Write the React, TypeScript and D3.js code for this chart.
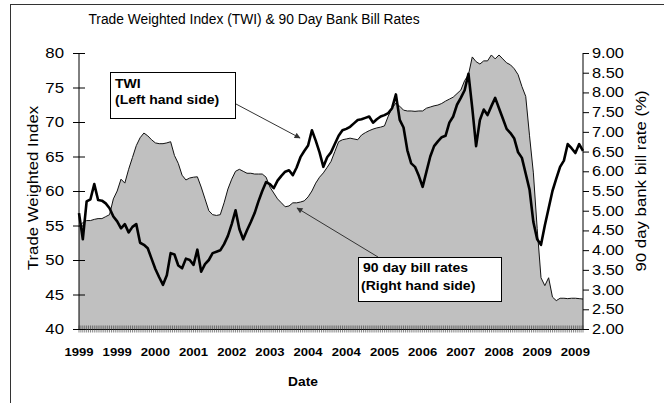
import React from "react";
import * as d3 from "d3";

// Trade Weighted Index (left axis) – sampled at even steps through the period
const twi: number[] = [
  56.8, 53.0, 58.5, 58.8, 61.0, 58.7, 58.6, 58.2, 57.5, 56.3,
  55.6, 54.6, 55.2, 54.0, 54.8, 55.2, 52.5, 52.2, 51.7, 50.2,
  48.7, 47.5, 46.4, 47.8, 51.0, 50.8, 49.2, 48.8, 50.2, 50.0,
  49.3, 51.5, 48.3, 49.4, 50.0, 51.0, 51.2, 51.4, 52.3, 53.5,
  55.2, 57.2, 54.5, 53.0, 54.3, 55.5, 56.8, 58.5, 60.0, 61.3,
  61.0, 60.4, 61.5, 62.2, 62.8, 63.0, 62.3, 63.4, 64.9, 65.8,
  66.6, 68.8, 67.3, 65.6, 63.5, 64.9, 65.6, 66.8, 68.0, 68.8,
  69.0, 69.3, 69.8, 70.3, 70.4, 70.6, 70.8, 69.9, 70.4, 70.8,
  71.0, 71.3, 72.0, 74.0, 70.3, 69.2, 65.9, 64.0, 63.5, 62.2,
  60.6, 62.8, 65.0, 66.5, 67.2, 67.8, 68.0, 69.9, 70.8, 72.5,
  73.5, 74.6, 77.0, 72.0, 66.5, 70.3, 71.8, 71.0, 72.3, 73.5,
  72.0, 70.5, 69.0, 68.4, 67.6, 65.6, 64.8, 62.5, 60.2, 55.5,
  53.0, 52.2, 55.0, 57.5, 60.0, 61.8, 63.5, 64.4, 66.8, 66.2,
  65.5, 66.8, 65.8,
];

// 90 day bank bill rate, % (right axis) – same sampling as the TWI
const billRate: number[] = [
  4.6, 4.7, 4.75, 4.75, 4.78, 4.8, 4.8, 4.85, 4.9, 5.3,
  5.5, 5.8, 5.7, 6.05, 6.35, 6.65, 6.85, 6.97, 6.9, 6.8,
  6.72, 6.7, 6.7, 6.72, 6.75, 6.4, 6.2, 5.9, 5.78, 5.83,
  5.85, 5.86, 5.6, 5.3, 5.0, 4.9, 4.88, 4.9, 5.2, 5.55,
  5.8, 6.0, 6.05, 6.0, 5.95, 5.95, 5.93, 5.93, 5.93, 5.85,
  5.6, 5.45, 5.3, 5.2, 5.1, 5.12, 5.2, 5.2, 5.22, 5.25,
  5.35, 5.5, 5.7, 5.85, 5.96, 6.1, 6.25, 6.5, 6.75, 6.8,
  6.82, 6.84, 6.82, 6.8, 6.92, 6.98, 7.03, 7.07, 7.1, 7.12,
  7.15, 7.4, 7.6, 7.73, 7.65, 7.55, 7.53, 7.53, 7.52, 7.53,
  7.53, 7.6, 7.63, 7.66, 7.68, 7.72, 7.78, 7.83, 7.88, 7.97,
  8.06, 8.3, 8.45, 8.9, 8.78, 8.72, 8.8, 8.8, 8.95, 8.85,
  8.95, 8.85, 8.75, 8.7, 8.6, 8.45, 8.15, 7.9, 6.9, 5.96,
  4.55, 3.3, 3.1, 3.3, 2.81, 2.72, 2.78, 2.78, 2.77, 2.78,
  2.78, 2.77, 2.76,
];

// Category labels shown every LABEL_STEP samples
const dateLabels: string[] = [
  "1999", "1999", "2000", "2001", "2002", "2003", "2004",
  "2004", "2005", "2006", "2007", "2008", "2009", "2009",
];
const LABEL_STEP = 10;

const leftTicks: number[] = [40, 45, 50, 55, 60, 65, 70, 75, 80];
const rightTicks: number[] = [2, 2.5, 3, 3.5, 4, 4.5, 5, 5.5, 6, 6.5, 7, 7.5, 8, 8.5, 9];

const W = 664;
const H = 403;
const plot = { left: 79, right: 583, top: 53, bottom: 329 };
const FONT = "'Liberation Sans', Arial, sans-serif";

type STextProps = {
  x: number;
  y: number;
  sx?: number;
  rotate?: number;
  anchor?: "start" | "middle" | "end";
  size: number;
  bold?: boolean;
  children: React.ReactNode;
};

// Text widened along its own baseline direction
function SText({ x, y, sx = 1, rotate = 0, anchor = "start", size, bold, children }: STextProps) {
  return (
    <text
      transform={`translate(${x},${y}) rotate(${rotate}) scale(${sx},1)`}
      textAnchor={anchor}
      fontFamily={FONT}
      fontSize={size}
      fontWeight={bold ? "bold" : "normal"}
      fill="#000"
    >
      {children}
    </text>
  );
}

export default function App() {
  const n = twi.length;
  const x = d3.scaleLinear().domain([0, n - 1]).range([plot.left, plot.right]);
  const yL = d3.scaleLinear().domain([40, 80]).range([plot.bottom, plot.top]);
  const yR = d3.scaleLinear().domain([2, 9]).range([plot.bottom, plot.top]);

  const rateArea = d3
    .area<number>()
    .x((_, i) => x(i))
    .y0(yR(2))
    .y1((d) => yR(d))(billRate) as string;
  const rateLine = d3
    .line<number>()
    .x((_, i) => x(i))
    .y((d) => yR(d))(billRate) as string;
  const twiLine = d3
    .line<number>()
    .x((_, i) => x(i))
    .y((d) => yL(d))(twi) as string;

  // minor category tick marks, two per sample
  const minorTicks = d3.range(0, n - 1 + 0.001, 0.5);
  const fmt = d3.format(".2f");

  return (
    <svg
      width={W}
      height={H}
      viewBox={`0 0 ${W} ${H}`}
      style={{ position: "absolute", left: 0, top: 0, background: "#fff" }}
    >
      <defs>
        <marker id="arrowHead" viewBox="0 0 10 10" refX="9" refY="5" markerWidth="7" markerHeight="6" orient="auto">
          <path d="M0,0 L10,5 L0,10 z" fill="#333" />
        </marker>
      </defs>

      {/* chart frame */}
      <rect x={10.5} y={4.5} width={700} height={450} fill="#fff" stroke="#333" strokeWidth={1} />

      <SText x={254} y={24} anchor="middle" size={13.8}>
        Trade Weighted Index (TWI) &amp; 90 Day Bank Bill Rates
      </SText>

      {/* bill rate area */}
      <path d={rateArea} fill="#c0c0c0" stroke="none" />
      <path d={rateLine} fill="none" stroke="#111" strokeWidth={1} />

      {/* TWI line */}
      <path d={twiLine} fill="none" stroke="#000" strokeWidth={2.6} strokeLinejoin="round" />

      {/* axes */}
      <line x1={plot.left} x2={plot.left} y1={plot.top} y2={plot.bottom} stroke="#000" />
      <line x1={plot.right} x2={plot.right} y1={plot.top} y2={plot.bottom} stroke="#000" />
      <line x1={plot.left} x2={plot.right} y1={plot.bottom + 0.5} y2={plot.bottom + 0.5} stroke="#000" />

      {minorTicks.map((t) => (
        <line
          key={`m${t}`}
          x1={x(t)}
          x2={x(t)}
          y1={plot.bottom - 3.5}
          y2={plot.bottom + 3.5}
          stroke="#333"
          strokeWidth={0.6}
        />
      ))}

      {leftTicks.map((v) => (
        <g key={`l${v}`}>
          <line x1={plot.left - 6} x2={plot.left + 6} y1={yL(v) + 0.5} y2={yL(v) + 0.5} stroke="#000" />
          <SText x={64} y={yL(v) + 5} anchor="end" size={14} sx={1.2}>
            {v}
          </SText>
        </g>
      ))}

      {rightTicks.map((v) => (
        <g key={`r${v}`}>
          <line x1={plot.right} x2={plot.right + 6} y1={yR(v) + 0.5} y2={yR(v) + 0.5} stroke="#000" />
          <SText x={592} y={yR(v) + 5} anchor="start" size={14} sx={1.17}>
            {fmt(v)}
          </SText>
        </g>
      ))}

      {dateLabels.map((lab, i) => (
        <SText key={`d${i}`} x={x(i * LABEL_STEP)} y={356} anchor="middle" size={11.6} bold sx={1.13}>
          {lab}
        </SText>
      ))}

      <SText x={303} y={386} anchor="middle" size={12.5} bold sx={1.1}>
        Date
      </SText>
      <SText x={38} y={188} anchor="middle" size={14} rotate={-90} sx={1.2}>
        Trade Weighted Index
      </SText>
      <SText x={646} y={181} anchor="middle" size={14} rotate={-90} sx={1.2}>
        90 day bank bill rate (%)
      </SText>

      {/* annotations */}
      <line x1={236} y1={104} x2={300} y2={138} stroke="#333" strokeWidth={1} markerEnd="url(#arrowHead)" />
      <rect x={110.5} y={72.5} width={125} height={46} fill="#fff" stroke="#000" strokeWidth={1} />
      <SText x={115} y={88} size={12.4} bold sx={1.13}>TWI</SText>
      <SText x={115} y={104} size={12.4} bold sx={1.13}>(Left hand side)</SText>

      <line x1={378} y1={257} x2={297} y2={208} stroke="#333" strokeWidth={1} markerEnd="url(#arrowHead)" />
      <rect x={358.5} y={257.5} width={143} height={44} fill="#fff" stroke="#000" strokeWidth={1} />
      <SText x={363} y={272} size={12.4} bold sx={1.13}>90 day bill rates</SText>
      <SText x={361} y={290} size={12.4} bold sx={1.13}>(Right hand side)</SText>
    </svg>
  );
}
